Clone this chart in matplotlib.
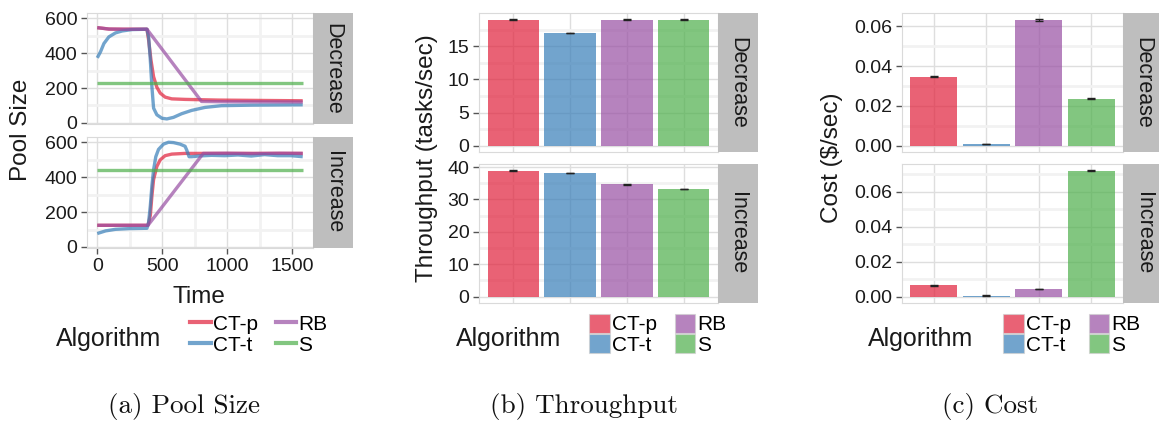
import matplotlib
matplotlib.use("Agg")
import matplotlib.pyplot as plt
from matplotlib.lines import Line2D
from matplotlib.patches import Patch
from matplotlib.ticker import FormatStrFormatter

plt.rcParams['font.family'] = ['Liberation Sans', 'DejaVu Sans']

W, H = 1159, 424

algorithms = ["CT-p", "CT-t", "RB", "S"]
colours = ["#E11F3A", "#377EB8", "#984EA3", "#4DAF4A"]
scenarios = ["Decrease", "Increase"]

# pool size over time, decreasing load
dec_ctp_t = [0, 90, 200, 300, 382, 395, 413, 433, 458, 484, 522, 573, 675, 930, 1580]
dec_ctp_y = [546, 538, 537, 537, 537, 474, 360, 265, 205, 171, 148, 138, 135, 131, 127]
dec_ctt_t = [0, 25, 51, 89, 140, 191, 267, 382, 395, 408, 420, 433, 458, 497, 535,
             586, 649, 726, 828, 955, 1184, 1580]
dec_ctt_y = [373, 408, 455, 493, 516, 527, 535, 537, 493, 360, 209, 85, 47, 27, 23,
             32, 53, 72, 89, 99, 102, 104]
dec_rb_t = [0, 90, 200, 300, 382, 802, 1000, 1580]
dec_rb_y = [546, 538, 537, 537, 537, 123, 121, 120]
dec_s_t = [0, 1580]
dec_s_y = [231, 231]

# pool size over time, increasing load
inc_ctp_t = [0, 200, 390, 408, 420, 433, 458, 484, 522, 573, 675, 1000, 1580]
inc_ctp_y = [124, 124, 124, 180, 292, 386, 461, 499, 523, 532, 536, 536, 536]
inc_ctt_t = [0, 64, 140, 242, 382, 395, 408, 420, 433, 450, 471, 509, 548, 586, 637,
             675, 688, 706, 726, 777, 879, 981, 1082, 1184, 1286, 1388, 1490, 1580]
inc_ctt_y = [77, 92, 101, 105, 107, 142, 236, 349, 442, 517, 559, 589, 600, 598, 589,
             577, 555, 517, 517, 521, 525, 523, 527, 521, 529, 523, 523, 517]
inc_rb_t = [0, 200, 390, 815, 1000, 1200, 1400, 1580]
inc_rb_y = [124, 124, 124, 536, 537, 535, 537, 536]
inc_s_t = [0, 1580]
inc_s_y = [441, 441]

# mean throughput (tasks/sec) and its standard error
thr_dec = [19.0, 17.0, 19.0, 19.0]
thr_dec_err = [0.06, 0.05, 0.06, 0.06]
thr_inc = [38.9, 38.2, 34.7, 33.2]
thr_inc_err = [0.1, 0.08, 0.1, 0.08]

# mean cost ($/sec) and its standard error
cost_dec = [0.0347, 0.0008, 0.0632, 0.0236]
cost_dec_err = [0.0002, 0.0001, 0.0003, 0.0002]
cost_inc = [0.0064, 0.0006, 0.0045, 0.0721]
cost_inc_err = [0.0001, 0.0001, 0.0001, 0.0002]

pool = {
    "Decrease": [(dec_ctp_t, dec_ctp_y), (dec_ctt_t, dec_ctt_y), (dec_rb_t, dec_rb_y), (dec_s_t, dec_s_y)],
    "Increase": [(inc_ctp_t, inc_ctp_y), (inc_ctt_t, inc_ctt_y), (inc_rb_t, inc_rb_y), (inc_s_t, inc_s_y)],
}

ALPHA = 0.7
STRIP_W = 40
TEXT = "#1A1A1A"

fig = plt.figure(figsize=(W / 100, H / 100), dpi=100)


def rect(x0, y0, x1, y1):
    return [x0 / W, 1 - y1 / H, (x1 - x0) / W, (y1 - y0) / H]


def style_axes(ax):
    ax.set_facecolor("white")
    for sp in ax.spines.values():
        sp.set_color("#DADADA")
        sp.set_linewidth(0.8)
    ax.set_axisbelow(True)
    ax.grid(True, which="major", color="#DEDEDE", lw=1.0)
    ax.grid(True, which="minor", color="#F2F2F2", lw=2.0)
    ax.tick_params(which="major", direction="out", length=4, width=1,
                   color="#555555", pad=3, labelsize=14, labelcolor=TEXT)
    ax.tick_params(which="minor", length=0)


def add_strip(x1, y0, y1, label):
    sax = fig.add_axes(rect(x1, y0, x1 + STRIP_W, y1))
    sax.set_facecolor("#BEBEBE")
    sax.set_xticks([])
    sax.set_yticks([])
    for sp in sax.spines.values():
        sp.set_visible(False)
    sax.text(0.5, 0.5, label, rotation=270, ha="center", va="center",
             fontsize=15.5, color=TEXT, transform=sax.transAxes)


def add_legend(x_title, x_keys, handles):
    fig.text(x_title / W, 1 - 346 / H, "Algorithm", fontsize=18,
             ha="left", va="baseline", color=TEXT)
    fig.legend(handles, algorithms, loc="upper left",
               bbox_to_anchor=(x_keys / W, 1 - 314 / H), ncol=2, frameon=False,
               fontsize=15, handlelength=1.0, handleheight=1.0,
               handletextpad=0.1, columnspacing=0.85, labelspacing=0.0,
               borderpad=0, borderaxespad=0)


# (a) pool size
a_rows = [(13, 124), (137, 248)]
for i, sc in enumerate(scenarios):
    y0, y1 = a_rows[i]
    ax = fig.add_axes(rect(87, y0, 313, y1))
    style_axes(ax)
    for (t, y), c in zip(pool[sc], colours):
        ax.plot(t, y, color=c, alpha=ALPHA, lw=2.4, solid_capstyle="butt")
    ax.set_xlim(-79, 1659)
    ax.set_ylim(-6, 630)
    ax.set_xticks([0, 500, 1000, 1500])
    ax.set_xticks([250, 750, 1250], minor=True)
    ax.set_yticks([0, 200, 400, 600])
    ax.set_yticks([100, 300, 500], minor=True)
    if i == 0:
        ax.tick_params(axis="x", bottom=False, labelbottom=False)
    add_strip(313, y0, y1, sc)

fig.text(21 / W, 1 - 130 / H, "Pool Size", rotation=90, fontsize=17.5,
         ha="center", va="center", color=TEXT)
fig.text(199 / W, 1 - 303 / H, "Time", fontsize=17.5, ha="center",
         va="baseline", color=TEXT)
line_handles = [Line2D([0], [0], color=c, alpha=ALPHA, lw=3) for c in colours]
add_legend(56, 190, line_handles)


def bar_panel(x0, x1, rows, values, errors, majors, minors, fmt):
    xs = [1, 2, 3, 4]
    for i, sc in enumerate(scenarios):
        y0, y1 = rows[i]
        ax = fig.add_axes(rect(x0, y0, x1, y1))
        style_axes(ax)
        ax.bar(xs, values[i], width=0.9, color=colours, alpha=ALPHA,
               edgecolor="none")
        ax.errorbar(xs, values[i], yerr=errors[i], fmt="none",
                    ecolor="#222222", elinewidth=0.8, capsize=3, capthick=1)
        top = max(v + e for v, e in zip(values[i], errors[i]))
        ax.set_ylim(-0.05 * top, 1.05 * top)
        ax.set_xlim(0.4, 4.6)
        ax.set_xticks(xs)
        ax.set_yticks(majors[i])
        ax.set_yticks(minors[i], minor=True)
        ax.yaxis.set_major_formatter(FormatStrFormatter(fmt))
        ax.tick_params(axis="x", bottom=False, labelbottom=False)
        add_strip(x1, y0, y1, sc)


bar_rows = [(13, 152), (164, 303)]
patch_handles = [Patch(facecolor=c, alpha=ALPHA, edgecolor="#D0D0D0", lw=0.8)
                 for c in colours]

# (b) throughput
bar_panel(479, 718, bar_rows, [thr_dec, thr_inc], [thr_dec_err, thr_inc_err],
          [[0, 5, 10, 15], [0, 10, 20, 30, 40]],
          [[2.5, 7.5, 12.5, 17.5], [5, 15, 25, 35]], "%g")
fig.text(427 / W, 1 - 158 / H, "Throughput (tasks/sec)", rotation=90,
         fontsize=17.5, ha="center", va="center", color=TEXT)
add_legend(456, 589, patch_handles)

# (c) cost
bar_panel(902, 1123, bar_rows, [cost_dec, cost_inc], [cost_dec_err, cost_inc_err],
          [[0, 0.02, 0.04, 0.06], [0, 0.02, 0.04, 0.06]],
          [[0.01, 0.03, 0.05], [0.01, 0.03, 0.05, 0.07]], "%.2f")
fig.text(832 / W, 1 - 158 / H, r"Cost (\$/sec)", rotation=90,
         fontsize=17.5, ha="center", va="center", color=TEXT)
add_legend(868, 1003, patch_handles)

# sub-figure captions
for xc, cap in [(184, "(a) Pool Size"), (584, "(b) Throughput"), (990, "(c) Cost")]:
    fig.text(xc / W, 1 - 413 / H, cap, fontfamily="cmr10", fontsize=19.5,
             ha="center", va="baseline", color="#111111")

fig.savefig("out.png", dpi=100)
